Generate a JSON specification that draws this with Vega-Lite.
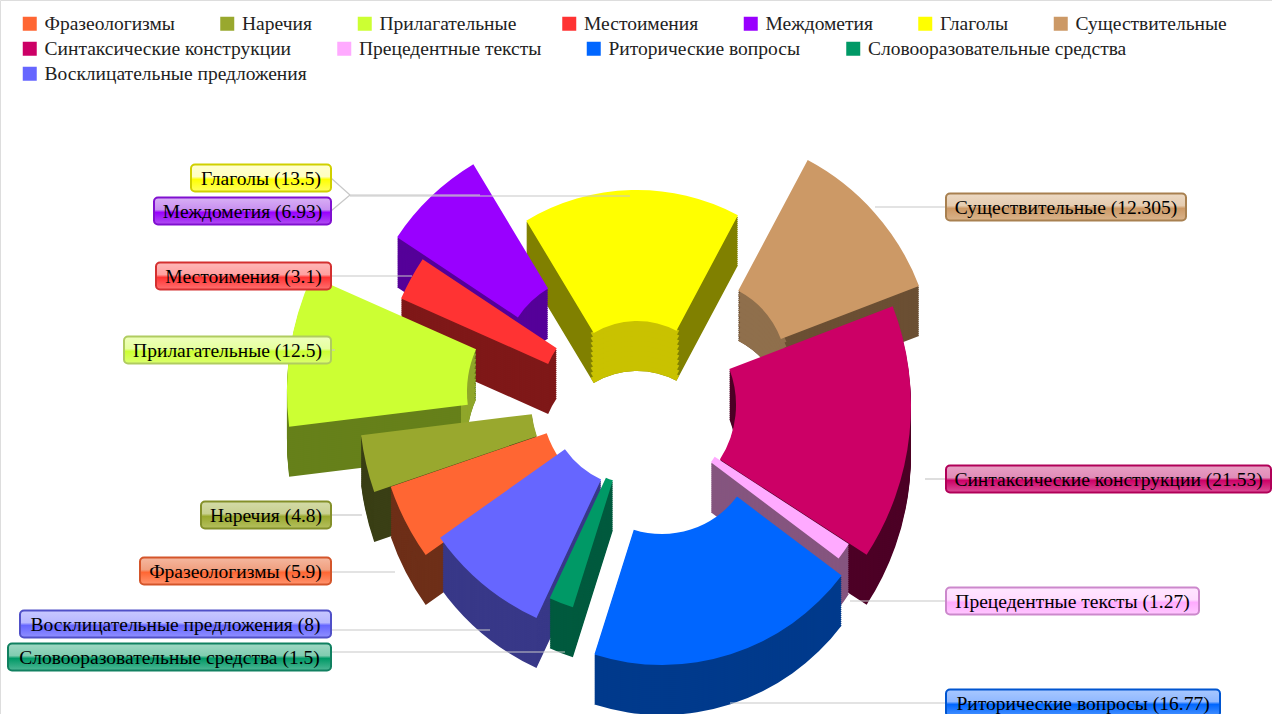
{
"$schema":"https://vega.github.io/schema/vega-lite/v6.json",
"width":1272,"height":714,"padding":0,"autosize":{"type":"none"},
"background":"white",
"params":[
{"name":"inner","value":{"Фразеологизмы":105,"Наречия":108,"Прилагательные":105,"Местоимения":106,"Междометия":95,"Глаголы":84,"Существительные":92,"Синтаксические конструкции":100,"Прецедентные тексты":95,"Риторические вопросы":94,"Словооразовательные средства":57,"Восклицательные предложения":92}},
{"name":"boxw","value":{"Фразеологизмы":191,"Наречия":130,"Прилагательные":207,"Местоимения":175,"Междометия":177,"Глаголы":140,"Существительные":240,"Синтаксические конструкции":325,"Прецедентные тексты":253,"Риторические вопросы":274,"Словооразовательные средства":323,"Восклицательные предложения":311}},
{"name":"lead","value":{"Фразеологизмы":395,"Наречия":362,"Прилагательные":335,"Местоимения":412,"Междометия":480,"Глаголы":630,"Существительные":875,"Синтаксические конструкции":925,"Прецедентные тексты":850,"Риторические вопросы":730,"Словооразовательные средства":565,"Восклицательные предложения":490}},
{"name":"boxfill","value":{
"Фразеологизмы":{"gradient":"linear","x1":0,"y1":0,"x2":0,"y2":1,"stops":[{"offset":0,"color":"#f5b8a0"},{"offset":0.45,"color":"#f0a080"},{"offset":0.55,"color":"#ff6633"},{"offset":1,"color":"#ff9570"}]},
"Наречия":{"gradient":"linear","x1":0,"y1":0,"x2":0,"y2":1,"stops":[{"offset":0,"color":"#d4dba8"},{"offset":0.45,"color":"#c8d090"},{"offset":0.55,"color":"#99a82e"},{"offset":1,"color":"#b5c05f"}]},
"Прилагательные":{"gradient":"linear","x1":0,"y1":0,"x2":0,"y2":1,"stops":[{"offset":0,"color":"#eeffbb"},{"offset":0.45,"color":"#e6ffa0"},{"offset":0.55,"color":"#ccff33"},{"offset":1,"color":"#dcff70"}]},
"Местоимения":{"gradient":"linear","x1":0,"y1":0,"x2":0,"y2":1,"stops":[{"offset":0,"color":"#ffb8b8"},{"offset":0.45,"color":"#ffa0a0"},{"offset":0.55,"color":"#ff3333"},{"offset":1,"color":"#ff7070"}]},
"Междометия":{"gradient":"linear","x1":0,"y1":0,"x2":0,"y2":1,"stops":[{"offset":0,"color":"#d9b0f5"},{"offset":0.45,"color":"#c890f0"},{"offset":0.55,"color":"#9900ff"},{"offset":1,"color":"#b050f0"}]},
"Глаголы":{"gradient":"linear","x1":0,"y1":0,"x2":0,"y2":1,"stops":[{"offset":0,"color":"#ffffd0"},{"offset":0.45,"color":"#ffffc0"},{"offset":0.55,"color":"#ffff00"},{"offset":1,"color":"#ffff60"}]},
"Существительные":{"gradient":"linear","x1":0,"y1":0,"x2":0,"y2":1,"stops":[{"offset":0,"color":"#ecd9c4"},{"offset":0.45,"color":"#e5ccb0"},{"offset":0.55,"color":"#cc9966"},{"offset":1,"color":"#dab48c"}]},
"Синтаксические конструкции":{"gradient":"linear","x1":0,"y1":0,"x2":0,"y2":1,"stops":[{"offset":0,"color":"#e8a0c4"},{"offset":0.45,"color":"#e08cb8"},{"offset":0.55,"color":"#cc0066"},{"offset":1,"color":"#dc5098"}]},
"Прецедентные тексты":{"gradient":"linear","x1":0,"y1":0,"x2":0,"y2":1,"stops":[{"offset":0,"color":"#ffe6ff"},{"offset":0.45,"color":"#ffdcff"},{"offset":0.55,"color":"#ffaaff"},{"offset":1,"color":"#ffc8ff"}]},
"Риторические вопросы":{"gradient":"linear","x1":0,"y1":0,"x2":0,"y2":1,"stops":[{"offset":0,"color":"#a8c8ff"},{"offset":0.45,"color":"#90b8ff"},{"offset":0.55,"color":"#0066ff"},{"offset":1,"color":"#4c94ff"}]},
"Словооразовательные средства":{"gradient":"linear","x1":0,"y1":0,"x2":0,"y2":1,"stops":[{"offset":0,"color":"#a0d8c4"},{"offset":0.45,"color":"#80ccb0"},{"offset":0.55,"color":"#009966"},{"offset":1,"color":"#50b896"}]},
"Восклицательные предложения":{"gradient":"linear","x1":0,"y1":0,"x2":0,"y2":1,"stops":[{"offset":0,"color":"#c8c8ff"},{"offset":0.45,"color":"#b8b8ff"},{"offset":0.55,"color":"#6666ff"},{"offset":1,"color":"#9090ff"}]}
}}
],
"data":{"values":[
{"name":"Фразеологизмы","value":5.9,"label":"Фразеологизмы (5.9)"},
{"name":"Наречия","value":4.8,"label":"Наречия (4.8)"},
{"name":"Прилагательные","value":12.5,"label":"Прилагательные (12.5)"},
{"name":"Местоимения","value":3.1,"label":"Местоимения (3.1)"},
{"name":"Междометия","value":6.93,"label":"Междометия (6.93)"},
{"name":"Глаголы","value":13.5,"label":"Глаголы (13.5)"},
{"name":"Существительные","value":12.305,"label":"Существительные (12.305)"},
{"name":"Синтаксические конструкции","value":21.53,"label":"Синтаксические конструкции (21.53)"},
{"name":"Прецедентные тексты","value":1.27,"label":"Прецедентные тексты (1.27)"},
{"name":"Риторические вопросы","value":16.77,"label":"Риторические вопросы (16.77)"},
{"name":"Словооразовательные средства","value":1.5,"label":"Словооразовательные средства (1.5)"},
{"name":"Восклицательные предложения","value":8,"label":"Восклицательные предложения (8)"}
]},
"resolve":{"scale":{"x":"independent","y":"independent","color":"independent","stroke":"independent","theta":"independent","radius":"independent"}},
"layer":[
{"transform":[{"stack":"value","groupby":[],"as":["t0","t1"]}],
"encoding":{
"x":{"field":"value","type":"quantitative","axis":null,"scale":{"type":"linear","nice":false,"zero":false,"domain":[1.27,1.5,3.1,4.8,5.9,6.93,8,12.305,12.5,13.5,16.77,21.53],"range":[635,630,645,639,646,597,640,695,572,637,662,636]}},
"y":{"field":"value","type":"quantitative","axis":null,"scale":{"type":"linear","nice":false,"zero":false,"domain":[1.27,1.5,3.1,4.8,5.9,6.93,8,12.305,12.5,13.5,16.77,21.53],"range":[405,426,407,401,399,370,396,372,392,405,440,405]}},
"theta":{"field":"t0","type":"quantitative","scale":{"type":"linear","nice":false,"zero":false,"domain":[0,5.9,10.7,23.2,26.3,33.23,46.73,59.035,80.565,81.835,98.605,100.105,108.105],"range":[4.096,4.381,4.590,5.131,5.299,5.742,6.772,7.487,8.430,8.500,9.730,9.861,10.379]}},
"theta2":{"field":"t1"},
"radius":{"field":"value","type":"quantitative","scale":{"type":"linear","nice":false,"zero":false,"domain":[1.27,1.5,3.1,4.8,5.9,6.93,8,12.305,12.5,13.5,16.77,21.53],"range":[255,190,267,280,270,240,245,240,285,215,225,275]}},
"color":{"field":"name","type":"nominal","legend":null,"scale":{"domain":["Фразеологизмы","Наречия","Прилагательные","Местоимения","Междометия","Глаголы","Существительные","Синтаксические конструкции","Прецедентные тексты","Риторические вопросы","Словооразовательные средства","Восклицательные предложения"],"range":["#6e2f18","#3a3f15","#66801a","#7f1818","#550099","#808000","#6b4f33","#4d0026","#85557f","#003a8c","#005a3e","#383888"]}}
},
"layer":[
{"mark":{"type":"arc","yOffset":50,"innerRadius":{"expr":"inner[datum.name]"}}},
{"mark":{"type":"arc","yOffset":48,"innerRadius":{"expr":"inner[datum.name]"}}},
{"mark":{"type":"arc","yOffset":46,"innerRadius":{"expr":"inner[datum.name]"}}},
{"mark":{"type":"arc","yOffset":44,"innerRadius":{"expr":"inner[datum.name]"}}},
{"mark":{"type":"arc","yOffset":42,"innerRadius":{"expr":"inner[datum.name]"}}},
{"mark":{"type":"arc","yOffset":40,"innerRadius":{"expr":"inner[datum.name]"}}},
{"mark":{"type":"arc","yOffset":38,"innerRadius":{"expr":"inner[datum.name]"}}},
{"mark":{"type":"arc","yOffset":36,"innerRadius":{"expr":"inner[datum.name]"}}},
{"mark":{"type":"arc","yOffset":34,"innerRadius":{"expr":"inner[datum.name]"}}},
{"mark":{"type":"arc","yOffset":32,"innerRadius":{"expr":"inner[datum.name]"}}},
{"mark":{"type":"arc","yOffset":30,"innerRadius":{"expr":"inner[datum.name]"}}},
{"mark":{"type":"arc","yOffset":28,"innerRadius":{"expr":"inner[datum.name]"}}},
{"mark":{"type":"arc","yOffset":26,"innerRadius":{"expr":"inner[datum.name]"}}},
{"mark":{"type":"arc","yOffset":24,"innerRadius":{"expr":"inner[datum.name]"}}},
{"mark":{"type":"arc","yOffset":22,"innerRadius":{"expr":"inner[datum.name]"}}},
{"mark":{"type":"arc","yOffset":20,"innerRadius":{"expr":"inner[datum.name]"}}},
{"mark":{"type":"arc","yOffset":18,"innerRadius":{"expr":"inner[datum.name]"}}},
{"mark":{"type":"arc","yOffset":16,"innerRadius":{"expr":"inner[datum.name]"}}},
{"mark":{"type":"arc","yOffset":14,"innerRadius":{"expr":"inner[datum.name]"}}},
{"mark":{"type":"arc","yOffset":12,"innerRadius":{"expr":"inner[datum.name]"}}},
{"mark":{"type":"arc","yOffset":10,"innerRadius":{"expr":"inner[datum.name]"}}},
{"mark":{"type":"arc","yOffset":8,"innerRadius":{"expr":"inner[datum.name]"}}},
{"mark":{"type":"arc","yOffset":6,"innerRadius":{"expr":"inner[datum.name]"}}},
{"mark":{"type":"arc","yOffset":4,"innerRadius":{"expr":"inner[datum.name]"}}},
{"mark":{"type":"arc","yOffset":2,"innerRadius":{"expr":"inner[datum.name]"}}}
]},
{"transform":[{"stack":"value","groupby":[],"as":["t0","t1"]},{"filter":{"field":"name","oneOf":["Глаголы","Существительные","Прилагательные"]}}],
"encoding":{
"x":{"field":"value","type":"quantitative","axis":null,"scale":{"type":"linear","nice":false,"zero":false,"domain":[12.305,12.5,13.5],"range":[695,572,637]}},
"y":{"field":"value","type":"quantitative","axis":null,"scale":{"type":"linear","nice":false,"zero":false,"domain":[12.305,12.5,13.5],"range":[372,392,405]}},
"theta":{"field":"t0","type":"quantitative","scale":{"type":"linear","nice":false,"zero":false,"domain":[0,5.9,10.7,23.2,26.3,33.23,46.73,59.035,80.565,81.835,98.605,100.105,108.105],"range":[4.096,4.381,4.590,5.131,5.299,5.742,6.772,7.487,8.430,8.500,9.730,9.861,10.379]}},
"theta2":{"field":"t1"},
"radius":{"value":{"expr":"inner[datum.name]+6"}},
"color":{"field":"name","type":"nominal","legend":null,"scale":{"domain":["Глаголы","Существительные","Прилагательные"],"range":["#c9c200","#8f6f4c","#8fa62a"]}}
},
"layer":[
{"mark":{"type":"arc","yOffset":50,"innerRadius":{"expr":"inner[datum.name]"}}},
{"mark":{"type":"arc","yOffset":45,"innerRadius":{"expr":"inner[datum.name]"}}},
{"mark":{"type":"arc","yOffset":40,"innerRadius":{"expr":"inner[datum.name]"}}},
{"mark":{"type":"arc","yOffset":35,"innerRadius":{"expr":"inner[datum.name]"}}},
{"mark":{"type":"arc","yOffset":30,"innerRadius":{"expr":"inner[datum.name]"}}},
{"mark":{"type":"arc","yOffset":25,"innerRadius":{"expr":"inner[datum.name]"}}},
{"mark":{"type":"arc","yOffset":20,"innerRadius":{"expr":"inner[datum.name]"}}},
{"mark":{"type":"arc","yOffset":15,"innerRadius":{"expr":"inner[datum.name]"}}},
{"mark":{"type":"arc","yOffset":10,"innerRadius":{"expr":"inner[datum.name]"}}},
{"mark":{"type":"arc","yOffset":5,"innerRadius":{"expr":"inner[datum.name]"}}}
]},
{"transform":[{"stack":"value","groupby":[],"as":["t0","t1"]}],
"resolve":{"scale":{"color":"independent"}},
"encoding":{
"x":{"field":"value","type":"quantitative","axis":null,"scale":{"type":"linear","nice":false,"zero":false,"domain":[1.27,1.5,3.1,4.8,5.9,6.93,8,12.305,12.5,13.5,16.77,21.53],"range":[635,630,645,639,646,597,640,695,572,637,662,636]}},
"y":{"field":"value","type":"quantitative","axis":null,"scale":{"type":"linear","nice":false,"zero":false,"domain":[1.27,1.5,3.1,4.8,5.9,6.93,8,12.305,12.5,13.5,16.77,21.53],"range":[405,426,407,401,399,370,396,372,392,405,440,405]}},
"theta":{"field":"t0","type":"quantitative","scale":{"type":"linear","nice":false,"zero":false,"domain":[0,5.9,10.7,23.2,26.3,33.23,46.73,59.035,80.565,81.835,98.605,100.105,108.105],"range":[4.096,4.381,4.590,5.131,5.299,5.742,6.772,7.487,8.430,8.500,9.730,9.861,10.379]}},
"theta2":{"field":"t1"},
"radius":{"field":"value","type":"quantitative","scale":{"type":"linear","nice":false,"zero":false,"domain":[1.27,1.5,3.1,4.8,5.9,6.93,8,12.305,12.5,13.5,16.77,21.53],"range":[255,190,267,280,270,240,245,240,285,215,225,275]}}
},
"layer":[
{"transform":[{"filter":{"field":"name","oneOf":["Фразеологизмы","Наречия","Прилагательные","Местоимения","Междометия","Глаголы","Существительные"]}}],
"mark":{"type":"arc","innerRadius":{"expr":"inner[datum.name]"}},
"encoding":{"color":{"field":"name","type":"nominal","sort":null,
"scale":{"domain":["Фразеологизмы","Наречия","Прилагательные","Местоимения","Междометия","Глаголы","Существительные"],"range":["#ff6633","#99a82e","#ccff33","#ff3333","#9900ff","#ffff00","#cc9966"]},
"legend":{"title":null,"orient":"none","legendX":20,"legendY":14,"columns":7,"gridAlign":"none","columnPadding":42.5,"symbolType":"square","symbolSize":196,"symbolStrokeWidth":0,"labelFont":"Liberation Serif","labelFontSize":19.5,"labelLimit":400,"labelColor":"#222","labelOffset":5}}}},
{"transform":[{"filter":{"field":"name","oneOf":["Синтаксические конструкции","Прецедентные тексты","Риторические вопросы","Словооразовательные средства"]}}],
"mark":{"type":"arc","innerRadius":{"expr":"inner[datum.name]"}},
"encoding":{"color":{"field":"name","type":"nominal","sort":null,
"scale":{"domain":["Синтаксические конструкции","Прецедентные тексты","Риторические вопросы","Словооразовательные средства"],"range":["#cc0066","#ffaaff","#0066ff","#009966"]},
"legend":{"title":null,"orient":"none","legendX":20,"legendY":39,"columns":7,"gridAlign":"none","columnPadding":42.5,"symbolType":"square","symbolSize":196,"symbolStrokeWidth":0,"labelFont":"Liberation Serif","labelFontSize":19.5,"labelLimit":400,"labelColor":"#222","labelOffset":5}}}},
{"transform":[{"filter":{"field":"name","oneOf":["Восклицательные предложения"]}}],
"mark":{"type":"arc","innerRadius":{"expr":"inner[datum.name]"}},
"encoding":{"color":{"field":"name","type":"nominal","sort":null,
"scale":{"domain":["Восклицательные предложения"],"range":["#6666ff"]},
"legend":{"title":null,"orient":"none","legendX":20,"legendY":64,"columns":7,"gridAlign":"none","columnPadding":42.5,"symbolType":"square","symbolSize":196,"symbolStrokeWidth":0,"labelFont":"Liberation Serif","labelFontSize":19.5,"labelLimit":400,"labelColor":"#222","labelOffset":5}}}}
]},
{"mark":{"type":"rule","stroke":"#c8c8c8","strokeWidth":1.2},
"encoding":{
"x":{"field":"value","type":"quantitative","axis":null,"scale":{"type":"linear","nice":false,"zero":false,"domain":[1.27,1.5,3.1,4.8,5.9,6.93,8,12.305,12.5,13.5,16.77,21.53],"range":[946,331,331,331,331,350,331,946,331,350,946,946]}},
"x2":{"value":{"expr":"lead[datum.name]"}},
"y":{"field":"value","type":"quantitative","axis":null,"scale":{"type":"linear","nice":false,"zero":false,"domain":[1.27,1.5,3.1,4.8,5.9,6.93,8,12.305,12.5,13.5,16.77,21.53],"range":[601,652,276,515,572,195,630,207,350,196,703,479]}}
}},
{"transform":[{"filter":{"field":"name","oneOf":["Междометия","Глаголы"]}}],
"mark":{"type":"rule","stroke":"#c8c8c8","strokeWidth":1.2},
"encoding":{
"x":{"field":"value","type":"quantitative","axis":null,"scale":{"type":"linear","nice":false,"zero":false,"domain":[6.93,13.5],"range":[331,331]}},
"x2":{"value":350},
"y":{"field":"value","type":"quantitative","axis":null,"scale":{"type":"linear","nice":false,"zero":false,"domain":[6.93,13.5],"range":[211,178]}},
"y2":{"value":195}
}},
{"mark":{"type":"rect","height":27,"cornerRadius":4,"strokeWidth":2,"width":{"expr":"boxw[datum.name]"},"fill":{"expr":"boxfill[datum.name]"}},
"encoding":{
"x":{"field":"value","type":"quantitative","axis":null,"scale":{"type":"linear","nice":false,"zero":false,"domain":[1.27,1.5,3.1,4.8,5.9,6.93,8,12.305,12.5,13.5,16.77,21.53],"range":[1072.5,169.5,243.5,266,235.5,242.5,175.5,1066,227.5,261,1083,1108.5]}},
"y":{"field":"value","type":"quantitative","axis":null,"scale":{"type":"linear","nice":false,"zero":false,"domain":[1.27,1.5,3.1,4.8,5.9,6.93,8,12.305,12.5,13.5,16.77,21.53],"range":[601,657,276,515,571,211,624,207,350,178,703,479]}},
"stroke":{"field":"name","type":"nominal","legend":null,"scale":{"domain":["Фразеологизмы","Наречия","Прилагательные","Местоимения","Междометия","Глаголы","Существительные","Синтаксические конструкции","Прецедентные тексты","Риторические вопросы","Словооразовательные средства","Восклицательные предложения"],"range":["#d4552a","#84902a","#b0cc60","#d43030","#8010d0","#d0d000","#a88050","#b00058","#cc88cc","#0055d0","#108060","#5050c8"]}}
}},
{"mark":{"type":"text","font":"Liberation Serif","fontSize":19.5,"color":"#000","baseline":"middle","align":"center","dy":1},
"encoding":{
"text":{"field":"label"},
"x":{"field":"value","type":"quantitative","axis":null,"scale":{"type":"linear","nice":false,"zero":false,"domain":[1.27,1.5,3.1,4.8,5.9,6.93,8,12.305,12.5,13.5,16.77,21.53],"range":[1072.5,169.5,243.5,266,235.5,242.5,175.5,1066,227.5,261,1083,1108.5]}},
"y":{"field":"value","type":"quantitative","axis":null,"scale":{"type":"linear","nice":false,"zero":false,"domain":[1.27,1.5,3.1,4.8,5.9,6.93,8,12.305,12.5,13.5,16.77,21.53],"range":[601,657,276,515,571,211,624,207,350,178,703,479]}}
}}
]}
